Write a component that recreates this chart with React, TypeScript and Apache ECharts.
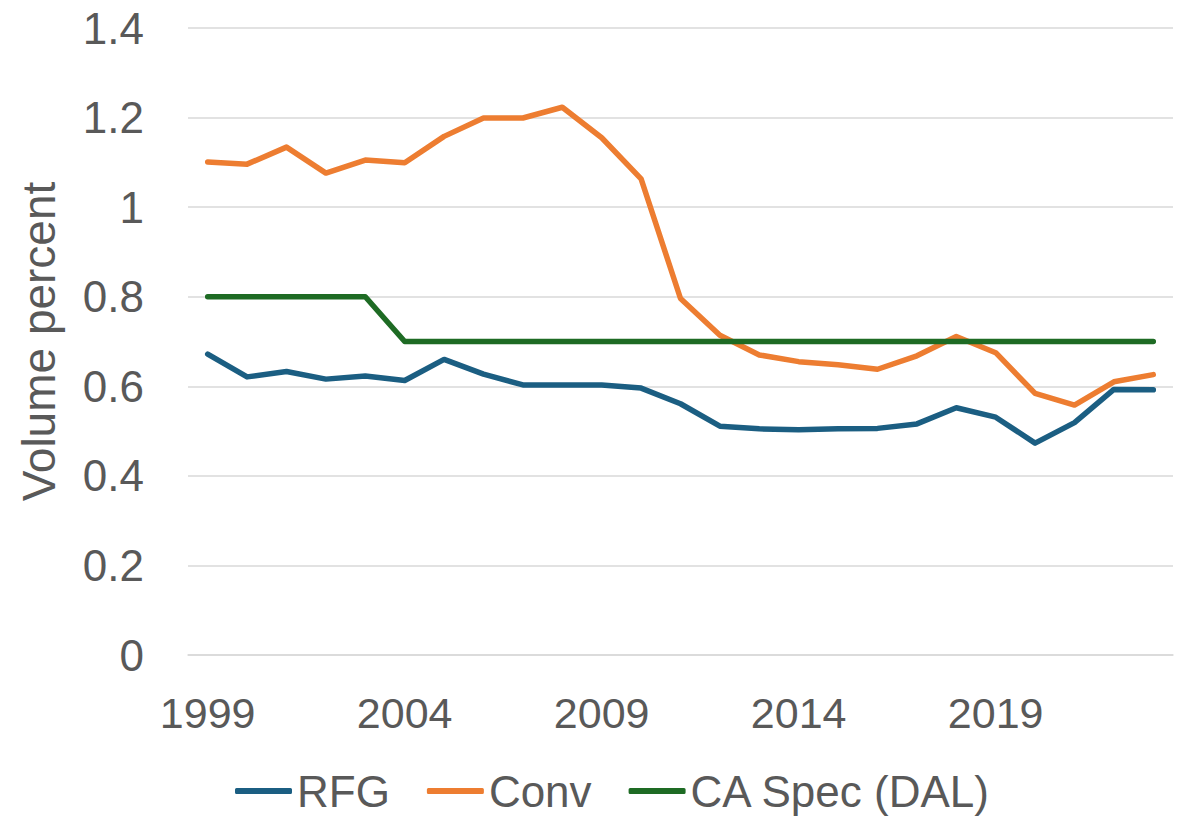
import React, { useEffect, useRef } from "react";
import * as echarts from "echarts";

const years = [
  "1999", "2000", "2001", "2002", "2003", "2004", "2005", "2006", "2007", "2008",
  "2009", "2010", "2011", "2012", "2013", "2014", "2015", "2016", "2017", "2018",
  "2019", "2020", "2021", "2022", "2023",
];

const rfg = [
  0.672, 0.621, 0.633, 0.616, 0.623, 0.613, 0.66, 0.627, 0.603, 0.603,
  0.603, 0.596, 0.561, 0.511, 0.505, 0.503, 0.505, 0.506, 0.516, 0.552,
  0.531, 0.473, 0.519, 0.593, 0.592,
];

const conv = [
  1.101, 1.096, 1.134, 1.076, 1.105, 1.099, 1.158, 1.199, 1.199, 1.223,
  1.155, 1.063, 0.796, 0.714, 0.67, 0.655, 0.648, 0.638, 0.668, 0.711,
  0.675, 0.584, 0.558, 0.61, 0.626,
];

const caSpec = [
  0.8, 0.8, 0.8, 0.8, 0.8, 0.7, 0.7, 0.7, 0.7, 0.7,
  0.7, 0.7, 0.7, 0.7, 0.7, 0.7, 0.7, 0.7, 0.7, 0.7,
  0.7, 0.7, 0.7, 0.7, 0.7,
];

const seriesNames = ["RFG", "Conv", "CA Spec (DAL)"];
const seriesColors = ["#1b5e82", "#ed7d31", "#1e6b24"];

export default function App() {
  const ref = useRef<HTMLDivElement>(null);

  useEffect(() => {
    if (!ref.current) return;
    const chart = echarts.init(ref.current, null, { renderer: "svg" });
    const font = "'Liberation Sans', Arial, sans-serif";
    const textColor = "#595959";
    const mk = (name: string, data: number[], color: string) => ({
      name,
      type: "line",
      data,
      symbol: "none",
      smooth: false,
      lineStyle: { color, width: 5.5, cap: "round", join: "round" },
      itemStyle: { color },
    });
    chart.setOption({
      animation: false,
      grid: { left: 188, right: 6, top: 28, bottom: 167, containLabel: false },
      legend: {
        bottom: 4,
        left: 230,
        itemWidth: 57,
        itemHeight: 6,
        itemGap: 37,
        icon: "roundRect",
        data: seriesNames,
        textStyle: { fontFamily: font, fontSize: 44, color: textColor },
      },
      xAxis: {
        type: "category",
        data: years,
        boundaryGap: true,
        axisLine: { show: true, lineStyle: { color: "#d9d9d9", width: 1.5 } },
        axisTick: { show: false },
        axisLabel: {
          interval: 4,
          margin: 36,
          fontFamily: font,
          fontSize: 43,
          color: textColor,
        },
      },
      yAxis: {
        type: "value",
        min: 0,
        max: 1.4,
        interval: 0.2,
        name: "Volume percent",
        nameLocation: "middle",
        nameGap: 126,
        nameTextStyle: { fontFamily: font, fontSize: 46, color: textColor },
        axisLine: { show: false },
        axisTick: { show: false },
        axisLabel: {
          margin: 44,
          fontFamily: font,
          fontSize: 44,
          color: textColor,
          formatter: (v: number) => String(Math.round(v * 10) / 10),
        },
        splitLine: { lineStyle: { color: "#d9d9d9", width: 1.5 } },
      },
      series: [
        mk(seriesNames[0], rfg, seriesColors[0]),
        mk(seriesNames[1], conv, seriesColors[1]),
        mk(seriesNames[2], caSpec, seriesColors[2]),
      ],
    });
    return () => chart.dispose();
  }, []);

  return (
    <div
      ref={ref}
      style={{ position: "fixed", left: 0, top: 0, width: 1179, height: 822, background: "#fff" }}
    />
  );
}
